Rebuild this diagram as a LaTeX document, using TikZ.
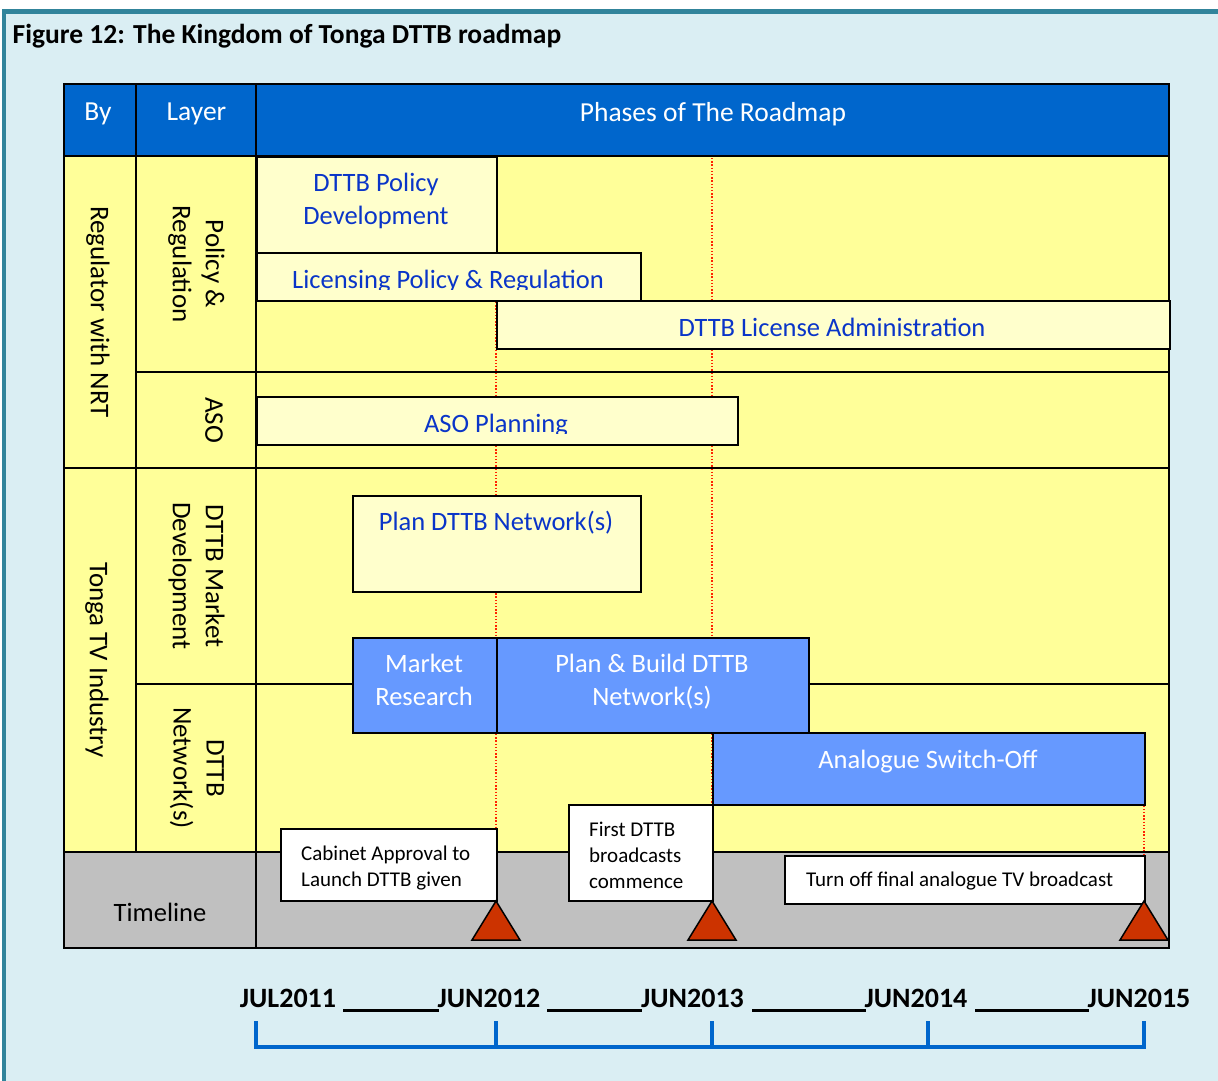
\documentclass[tikz,border=0pt]{standalone}
\usepackage{fontspec}
\setmainfont{Carlito}
\definecolor{bgblue}{HTML}{DAEEF3}
\definecolor{framec}{HTML}{31849B}
\definecolor{hdrblue}{HTML}{0066CC}
\definecolor{yel}{HTML}{FFFF99}
\definecolor{ltyel}{HTML}{FFFFCC}
\definecolor{barblue}{HTML}{6699FF}
\definecolor{txtblue}{HTML}{0A35C8}
\definecolor{tlgray}{HTML}{C0C0C0}
\definecolor{tric}{HTML}{CC3300}
\definecolor{dotred}{HTML}{FF2200}
\begin{document}
\begin{tikzpicture}[x=1pt,y=-1pt,
  gridline/.style={line width=2pt, draw=black},
  boxbase/.style={draw=black, line width=2pt, inner sep=0pt, anchor=north west},
  ltbar/.style={boxbase, fill=ltyel},
  bluebar/.style={boxbase, fill=barblue},
  callout/.style={boxbase, fill=white},
  hdrtxt/.style={text=white, font=\fontsize{27.5}{32}\selectfont, anchor=base, inner sep=0pt},
  lyrtxt/.style={font=\fontsize{27}{33}\selectfont, rotate=-90, align=center, inner sep=0pt},
  bartxt/.style={text=txtblue, font=\fontsize{26.5}{32}\selectfont, anchor=base, inner sep=0pt},
  wbartxt/.style={text=white, font=\fontsize{26.5}{32}\selectfont, anchor=base, inner sep=0pt},
  calltxt/.style={font=\fontsize{21}{26}\selectfont, anchor=base west, inner sep=0pt},
  axtxt/.style={font=\bfseries\fontsize{28}{32}\selectfont, anchor=base, inner sep=0pt},
  milestone/.style={fill=tric, draw=black, line width=1.5pt, line join=miter},
  guide/.style={draw=dotred, line width=1.3pt, dash pattern=on 1.3pt off 1.9pt},
  axisline/.style={draw=hdrblue, line width=4pt},
  uline/.style={draw=black, line width=3.5pt}
]
\useasboundingbox (0,0) rectangle (1218,1081);
% background and frame
\fill[white] (0,0) rectangle (1218,1081);
\fill[bgblue] (2,9) rectangle (1218,1081);
\fill[framec] (1.7,9.3) rectangle (1218,14);
\fill[framec] (1.7,9.3) rectangle (6,1081);

% title
\node[font=\bfseries\fontsize{27.5}{30}\selectfont, anchor=base west, inner sep=0pt] (title) at (12.5,43.3) {Figure 12: The Kingdom of Tonga DTTB roadmap};

% table fills
\fill[hdrblue] (64,84) rectangle (1169,156);
\fill[yel] (64,156) rectangle (1169,852);
\fill[tlgray] (64,852) rectangle (1169,948);

% dotted guides
\draw[guide] (496,158) -- (496,900);
\draw[guide] (712,158) -- (712,900);
\draw[guide] (1144,732) -- (1144,900);

% grid lines
\draw[gridline] (64,84) rectangle (1169,948);
\draw[gridline] (64,156) -- (1169,156);
\draw[gridline] (136,84) -- (136,852);
\draw[gridline] (256,84) -- (256,948);
\draw[gridline] (136,372) -- (1169,372);
\draw[gridline] (64,468) -- (1169,468);
\draw[gridline] (136,684) -- (1169,684);
\draw[gridline] (64,852) -- (1169,852);

% header texts
\node[hdrtxt] (hby) at (98,120) {By};
\node[hdrtxt] (hlayer) at (196.5,120) {Layer};
\node[hdrtxt] (hphases) at (713,121) {Phases of The Roadmap};

% side labels
\node[lyrtxt] (reg) at (98,312) {Regulator with NRT};
\node[lyrtxt] (polreg) at (196.5,264) {Policy \&\\Regulation};
\node[lyrtxt] (aso) at (214,420) {ASO};
\node[lyrtxt] (tonga) at (97,660) {Tonga TV Industry};
\node[lyrtxt] (mktdev) at (196.5,576) {DTTB Market\\Development};
\node[lyrtxt] (netw) at (197,768) {DTTB\\Network(s)};
\node[font=\fontsize{26.5}{32}\selectfont, anchor=base, inner sep=0pt] (timeline) at (160,921) {Timeline};

% bars
\node[ltbar, minimum width=240pt, minimum height=96pt] (polbox) at (256,156) {};
\node[bartxt] (pol1) at (376,191.5) {DTTB Policy};
\node[bartxt] (pol2) at (376,224) {Development};

\node[ltbar, minimum width=384pt, minimum height=48pt] (licbox) at (256,252) {};
\begin{scope}
\clip (256,252) rectangle (640,289);
\node[bartxt] (lictxt) at (448,288) {Licensing Policy \& Regulation};
\end{scope}

\node[ltbar, minimum width=673pt, minimum height=48pt] (admbox) at (496,300) {};
\node[bartxt] (admtxt) at (832,336.5) {DTTB License Administration};

\node[ltbar, minimum width=481pt, minimum height=48pt] (asobox) at (256,396) {};
\begin{scope}
\clip (256,396) rectangle (737,433.5);
\node[bartxt] (asotxt) at (496,432.5) {ASO Planning};
\end{scope}

\node[ltbar, minimum width=288pt, minimum height=96pt] (plnbox) at (352,495) {};
\node[bartxt] (plntxt) at (496,530.5) {Plan DTTB Network(s)};

\node[bluebar, minimum width=144pt, minimum height=95pt] (mrbox) at (352,637) {};
\node[wbartxt] (mr1) at (424,672.5) {Market};
\node[wbartxt] (mr2) at (424,705) {Research};

\node[bluebar, minimum width=312pt, minimum height=95pt] (pbbox) at (496,637) {};
\node[wbartxt] (pb1) at (652,672.5) {Plan \& Build DTTB};
\node[wbartxt] (pb2) at (652,705) {Network(s)};

\node[bluebar, minimum width=432pt, minimum height=72pt] (asobar) at (712,732) {};
\node[wbartxt] (asoofftxt) at (928,768) {Analogue Switch-Off};

% callouts
\node[callout, minimum width=216pt, minimum height=72pt] (cabbox) at (280,828) {};
\node[calltxt] (cab1) at (301,860.5) {Cabinet Approval to};
\node[calltxt] (cab2) at (301,886) {Launch DTTB given};

\node[callout, minimum width=144pt, minimum height=96pt] (firstbox) at (568,804) {};
\node[calltxt] (fst1) at (589,836) {First DTTB};
\node[calltxt] (fst2) at (589,862) {broadcasts};
\node[calltxt] (fst3) at (589,888) {commence};

\node[callout, minimum width=360pt, minimum height=48pt] (offbox) at (784,855) {};
\node[calltxt] (offtxt) at (806,886) {Turn off final analogue TV broadcast};

% milestones
\draw[milestone] (496,901) -- (520,940) -- (472,940) -- cycle;
\draw[milestone] (712,901) -- (736,940) -- (688,940) -- cycle;
\draw[milestone] (1144,901) -- (1168,940) -- (1120,940) -- cycle;

% axis labels
\node[axtxt] (d1) at (288,1007) {JUL2011};
\node[axtxt] (d2) at (489,1007) {JUN2012};
\node[axtxt] (d3) at (692.5,1007) {JUN2013};
\node[axtxt] (d4) at (916,1007) {JUN2014};
\node[axtxt] (d5) at (1139,1007) {JUN2015};
\draw[uline] (343,1010.5) -- (439,1010.5);
\draw[uline] (547,1010.5) -- (642,1010.5);
\draw[uline] (752,1010.5) -- (866,1010.5);
\draw[uline] (975,1010.5) -- (1089,1010.5);

% axis bracket
\draw[axisline] (256,1021) -- (256,1046.5) -- (1144,1046.5) -- (1144,1021);
\draw[axisline] (496,1021) -- (496,1046.5);
\draw[axisline] (712,1021) -- (712,1046.5);
\draw[axisline] (928,1021) -- (928,1046.5);
\end{tikzpicture}
\end{document}
